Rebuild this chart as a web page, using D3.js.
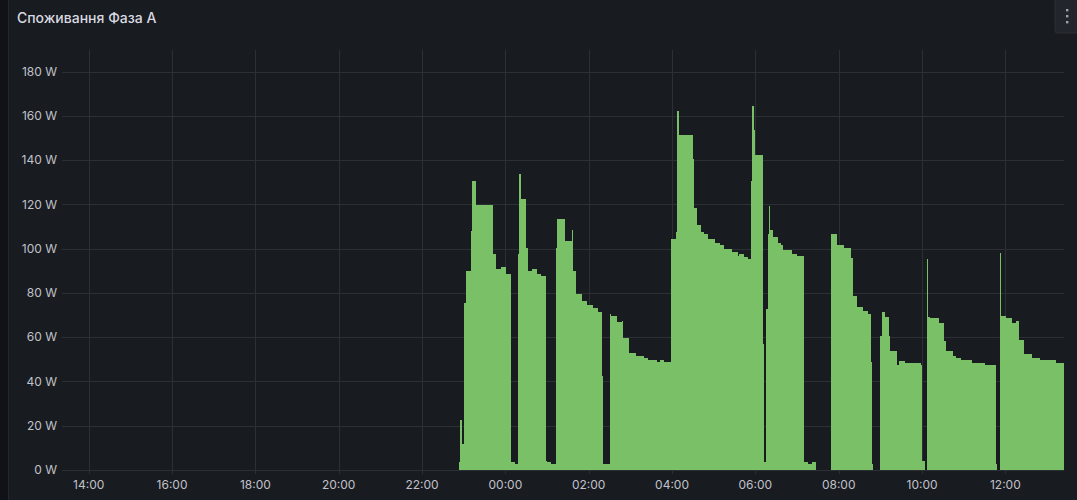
<!DOCTYPE html>
<html>
<head>
<meta charset="utf-8">
<script src="https://cdn.jsdelivr.net/npm/d3@7"></script>
<style>
  html, body { margin: 0; padding: 0; background: #111217; }
  svg { display: block; }
</style>
</head>
<body>
<svg id="chart" width="1077" height="500"></svg>
<script>
// ---- data ----
const title = "Споживання Фаза А";
const yTicks = [0, 20, 40, 60, 80, 100, 120, 140, 160, 180];
const xTickLabels = ["14:00","16:00","18:00","20:00","22:00","00:00","02:00","04:00","06:00","08:00","10:00","12:00"];
const rangeStart = "2024-01-01T13:24";
const rangeEnd = "2024-01-02T13:24";
// step start times (day 1 before midnight, then day 2)
const times = [
  "1 22:53","1 22:55","1 22:57","1 23:00","1 23:01","1 23:03","1 23:04","1 23:11","1 23:12","1 23:18",
  "1 23:42","1 23:47","1 23:53","2 00:01","2 00:08","2 00:14","2 00:18","2 00:20","2 00:22","2 00:30",
  "2 00:32","2 00:39","2 00:46","2 00:51","2 00:59","2 01:00","2 01:05","2 01:13","2 01:15","2 01:26",
  "2 01:36","2 01:38","2 01:42","2 01:50","2 01:58","2 02:06","2 02:13","2 02:14","2 02:19","2 02:21",
  "2 02:30","2 02:32","2 02:41","2 02:48","2 02:50","2 02:58","2 03:08","2 03:20","2 03:26","2 03:38",
  "2 03:43","2 03:49","2 03:59","2 04:05","2 04:07","2 04:10","2 04:30","2 04:31","2 04:36","2 04:41",
  "2 04:46","2 04:52","2 05:02","2 05:09","2 05:15","2 05:26","2 05:35","2 05:37","2 05:44","2 05:50",
  "2 05:53","2 05:55","2 05:58","2 05:59","2 06:11","2 06:12","2 06:16","2 06:18","2 06:19","2 06:20",
  "2 06:21","2 06:25","2 06:32","2 06:37","2 06:40","2 06:53","2 07:00","2 07:10","2 07:16","2 07:21",
  "2 07:28","2 07:49","2 07:57","2 08:08","2 08:18","2 08:20","2 08:26","2 08:35","2 08:42","2 08:46",
  "2 08:48","2 08:50","2 09:00","2 09:02","2 09:06","2 09:12","2 09:14","2 09:24","2 09:27","2 09:36",
  "2 09:59","2 10:00","2 10:04","2 10:07","2 10:08","2 10:11","2 10:25","2 10:32","2 10:35","2 10:44",
  "2 10:49","2 10:56","2 11:12","2 11:31","2 11:46","2 11:48","2 11:52","2 11:53","2 12:01","2 12:09",
  "2 12:16","2 12:20","2 12:27","2 12:38","2 12:50","2 13:13","2 13:24"
];
const watts = [
  3.5,22.6,11.5,8.8,75.5,108.5,89.7,108,130.4,119.6,
  97.5,90.7,91.8,88.5,3.5,2.7,97.8,133.6,122.3,100.5,
  89.7,91,88.5,87.6,4.2,3.5,2.7,100.5,113.4,103.5,
  108.3,89.7,79.5,76.5,74.5,73.4,94.5,71.5,42.6,2.8,
  70.4,69.7,66.7,67.4,59.6,52.7,51.6,50.6,49.7,48.6,
  49.7,48.6,104.6,107.6,162.5,151.3,140.4,118.5,110.6,107.6,
  106.5,104.6,102.5,101.6,99.8,98.7,96.7,97.5,96.4,95.5,
  130.6,164.4,153.6,142.4,56.9,3.5,72.7,106.5,130.6,119.3,
  108.3,105.5,102.5,101.7,99.5,97.5,96.6,3.5,2.8,3.5,
  0,106.5,101.6,100.5,95.7,78.7,73.7,71.6,70.4,48.6,
  2.8,0,60.7,71.5,68.9,60.7,53.6,47.6,49.4,48.5,
  47.5,3.8,0,95.3,69.2,68.6,66.5,58.4,53.8,51.5,
  50.6,49.7,48.5,47.6,2.8,0,98.2,69.5,68.6,66.5,
  67.4,58.7,52.5,50.6,49.7,48.5
];

// ---- helpers ----
function parseT(s) {
  const [d, hm] = s.split(" ");
  return new Date(`2024-01-0${d}T${hm}:00`);
}
const tDates = times.map(parseT);

const svg = d3.select("#chart");
const W = 1077, H = 500;

// backgrounds
svg.append("rect").attr("width", W).attr("height", H).attr("fill", "#111217");
svg.append("rect").attr("x", 8.5).attr("y", -2).attr("width", W).attr("height", H + 4)
  .attr("fill", "#181b1f").attr("stroke", "#25272c").attr("stroke-width", 1);

// menu button
const mb = svg.append("g");
mb.append("rect").attr("x", 1055).attr("y", -4).attr("width", 26).attr("height", 37).attr("rx", 2)
  .attr("fill", "#22252b").attr("stroke", "#2c2f35");
[10, 16, 22].forEach(cy => mb.append("rect").attr("x", 1066).attr("y", cy - 1).attr("width", 2.4).attr("height", 2.4).attr("fill", "#9fa1a8"));

// title
svg.append("text").attr("x", 17).attr("y", 23)
  .attr("font-family", "Inter, 'Noto Sans', sans-serif").attr("font-size", 14).attr("font-weight", 500)
  .attr("fill", "#d8d9e0").text(title);

// scales
const x = d3.scaleTime()
  .domain([new Date(rangeStart), new Date(rangeEnd)])
  .range([63.7, 1063.7]);
const y = d3.scaleLinear().domain([0, 190]).range([469.8, 49.7]);

const plotTop = 49.7, plotLeft = 62, plotRight = 1064;

// grid
const grid = svg.append("g");
yTicks.forEach(v => {
  grid.append("line").attr("x1", plotLeft).attr("x2", plotRight)
    .attr("y1", Math.round(y(v)) + 0.5).attr("y2", Math.round(y(v)) + 0.5)
    .attr("stroke", "#2c2f34").attr("stroke-width", 1);
});
const xTickDates = xTickLabels.map((lab, i) => new Date(`2024-01-0${i < 5 ? 1 : 2}T${lab}:00`));
xTickDates.forEach(d => {
  grid.append("line").attr("x1", Math.round(x(d)) + 0.5).attr("x2", Math.round(x(d)) + 0.5)
    .attr("y1", plotTop).attr("y2", 474)
    .attr("stroke", "#2c2f34").attr("stroke-width", 1);
});

// bars
const bars = svg.append("g");
for (let i = 0; i < watts.length; i++) {
  const x0 = x(tDates[i]), x1 = x(tDates[i + 1]);
  const v = watts[i];
  if (v <= 0) continue;
  bars.append("rect")
    .attr("x", x0).attr("width", Math.max(0.6, x1 - x0))
    .attr("y", y(v)).attr("height", y(0) - y(v))
    .attr("fill", "#7ac066")
    .attr("shape-rendering", "crispEdges");
}

// y axis labels
const lblFont = "Inter, 'Noto Sans', sans-serif";
const yAxis = svg.append("g");
yTicks.forEach(v => {
  yAxis.append("text").attr("x", 57).attr("y", y(v)).attr("dy", "0.35em")
    .attr("text-anchor", "end").attr("font-family", lblFont).attr("font-size", 12)
    .attr("fill", "#c0c1ca").text(`${v} W`);
});
// x axis labels
const xAxis = svg.append("g");
xTickDates.forEach((d, i) => {
  xAxis.append("text").attr("x", x(d)).attr("y", 485).attr("dy", "0.35em")
    .attr("text-anchor", "middle").attr("font-family", lblFont).attr("font-size", 12)
    .attr("fill", "#c0c1ca").text(xTickLabels[i]);
});
</script>
</body>
</html>
